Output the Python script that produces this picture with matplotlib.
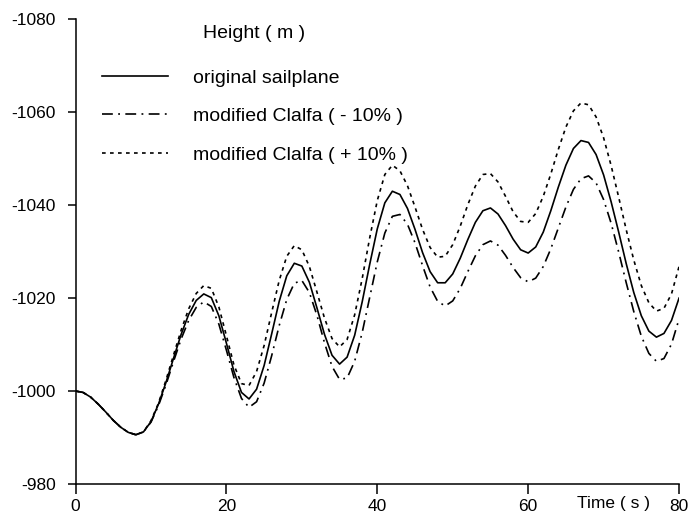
import matplotlib
matplotlib.use("Agg")
import matplotlib.pyplot as plt

# -----------------------------
# DATA (1 s steps)
# -----------------------------
time_s = list(range(0, 81))

height_original = [
    -1000.0, -999.7, -998.7, -997.2, -995.5, -993.7, -992.2, -991.1, -990.6,
    -991.2, -993.4, -997.2, -1001.9, -1007.1, -1012.2, -1016.5, -1019.5, -1020.9,
    -1020.1, -1016.2, -1010.3, -1004.2, -999.7, -998.3, -1000.4, -1005.5,
    -1012.3, -1019.3, -1024.8, -1027.5, -1026.9, -1023.4, -1017.9, -1012.2,
    -1007.7, -1005.8, -1007.3, -1012.0, -1019.2, -1027.3, -1034.9, -1040.5,
    -1043.0, -1042.3, -1039.3, -1034.8, -1029.8, -1025.7, -1023.3, -1023.3,
    -1025.2, -1028.6, -1032.6, -1036.3, -1038.8, -1039.4, -1038.1, -1035.6,
    -1032.7, -1030.4, -1029.7, -1031.0, -1034.2, -1038.8, -1043.9, -1048.6,
    -1052.2, -1053.9, -1053.5, -1050.9, -1046.5, -1040.7, -1034.2, -1027.4,
    -1021.2, -1016.2, -1012.9, -1011.6, -1012.4, -1015.2, -1020.0,
]

height_minus10 = [
    -1000.0, -999.7, -998.7, -997.2, -995.5, -993.7, -992.2, -991.1, -990.6,
    -991.2, -993.3, -996.9, -1001.4, -1006.4, -1011.2, -1015.2, -1018.0, -1019.2,
    -1018.2, -1014.4, -1008.8, -1002.9, -998.4, -996.5, -997.7, -1001.7,
    -1007.6, -1014.1, -1019.7, -1023.2, -1023.8, -1021.2, -1016.3, -1010.4,
    -1005.3, -1002.5, -1002.8, -1006.4, -1012.6, -1020.2, -1027.8, -1034.0,
    -1037.6, -1038.0, -1035.9, -1031.9, -1027.0, -1022.4, -1019.3, -1018.3,
    -1019.4, -1022.1, -1025.7, -1029.1, -1031.5, -1032.3, -1031.4, -1029.2,
    -1026.6, -1024.4, -1023.5, -1024.3, -1026.8, -1030.6, -1035.1, -1039.6,
    -1043.4, -1045.7, -1046.3, -1044.8, -1041.2, -1036.1, -1029.9, -1023.3,
    -1017.1, -1011.8, -1008.1, -1006.4, -1007.0, -1010.1, -1015.5,
]

height_plus10 = [
    -1000.0, -999.7, -998.7, -997.2, -995.5, -993.7, -992.2, -991.1, -990.6,
    -991.2, -993.6, -997.4, -1002.4, -1007.8, -1013.1, -1017.7, -1021.0, -1022.7,
    -1022.1, -1018.1, -1011.9, -1005.6, -1001.6, -1001.2, -1004.2, -1009.8,
    -1016.9, -1023.8, -1029.0, -1031.3, -1030.4, -1026.8, -1021.3, -1015.7,
    -1011.3, -1009.5, -1011.1, -1016.4, -1024.2, -1033.0, -1041.0, -1046.6,
    -1048.6, -1047.4, -1044.2, -1039.6, -1034.8, -1030.9, -1028.8, -1029.0,
    -1031.5, -1035.5, -1040.1, -1044.1, -1046.6, -1046.8, -1045.0, -1041.9,
    -1038.6, -1036.5, -1036.3, -1038.2, -1041.9, -1046.7, -1052.0, -1056.8,
    -1060.3, -1062.0, -1061.6, -1059.0, -1054.5, -1048.5, -1041.7, -1034.7,
    -1028.2, -1022.7, -1019.0, -1017.2, -1017.8, -1020.9, -1026.8,
]

series_labels = ["original sailplane", "modified Clalfa ( - 10% )", "modified Clalfa ( + 10% )"]
x_ticks = [0, 20, 40, 60, 80]
y_ticks = [-1080, -1060, -1040, -1020, -1000, -980]

# -----------------------------
# FIGURE
# -----------------------------
plt.rcParams["font.family"] = ["Liberation Sans", "DejaVu Sans"]
plt.rcParams["axes.unicode_minus"] = False

fig = plt.figure(figsize=(6.91, 5.23), dpi=100)
ax = fig.add_axes([0.1093, 0.0746, 0.8734, 0.8885])

lw = 1.2
ax.plot(time_s, height_original, color="black", lw=lw, label=series_labels[0])
ax.plot(time_s, height_minus10, color="black", lw=lw,
        linestyle=(0, (6.5, 3.2, 1.1, 3.2)), label=series_labels[1])
ax.plot(time_s, height_plus10, color="black", lw=lw,
        linestyle=(0, (2.2, 2.6)), label=series_labels[2])

ax.set_xlim(0, 80)
ax.set_ylim(-980, -1080)
ax.set_xticks(x_ticks)
ax.set_yticks(y_ticks)

for side in ["top", "right"]:
    ax.spines[side].set_visible(False)
for side in ["left", "bottom"]:
    ax.spines[side].set_linewidth(1.1)

ax.tick_params(axis="y", direction="out", length=6, width=1.1, pad=8, labelsize=12.5)
ax.tick_params(axis="x", direction="out", length=7, width=1.1, pad=4, labelsize=12.5)

ax.text(0.892, -0.041, "Time ( s )", transform=ax.transAxes,
        ha="center", va="center", fontsize=12.5)

# legend title drawn as its own text, legend rows below it
ax.text(0.2966, 0.9705, "Height ( m )", transform=ax.transAxes,
        ha="center", va="center", fontsize=14)
ax.legend(loc="upper left", bbox_to_anchor=(0.044, 0.893), frameon=False,
          fontsize=14, handlelength=3.4, handletextpad=1.3, labelspacing=1.08,
          borderpad=0, borderaxespad=0)

fig.savefig("out.png", dpi=100)
